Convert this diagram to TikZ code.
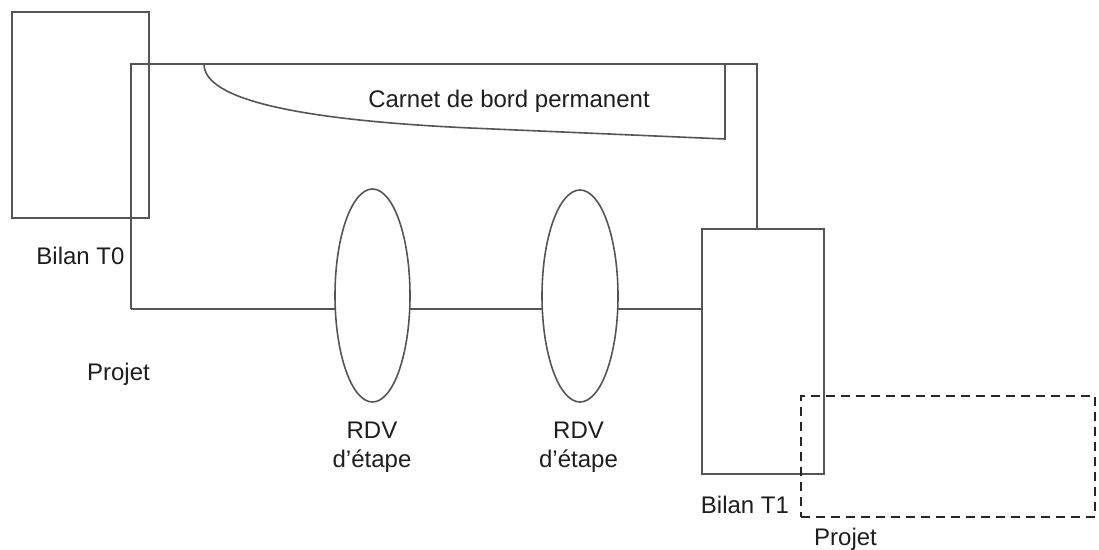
\documentclass[tikz,border=0pt]{standalone}
\usepackage{fontspec}
\setmainfont{Liberation Sans}
\usetikzlibrary{shapes.geometric}
\definecolor{linegray}{HTML}{555555}
\definecolor{txt}{HTML}{1E1E1E}
\tikzset{
  solidline/.style={draw=linegray, line width=1.6pt},
  boxnode/.style={solidline, rectangle, inner sep=0pt, outer sep=0pt},
  rdvnode/.style={solidline, ellipse, inner sep=0pt, outer sep=0pt},
  dashbox/.style={draw=black!85, line width=2pt, dash pattern=on 9pt off 6pt, rectangle, inner sep=0pt, outer sep=0pt},
  lbl/.style={text=txt, inner sep=0pt, font=\fontsize{24}{29}\selectfont},
}
\begin{document}
\begin{tikzpicture}[x=1pt, y=-1pt]
\fill[white] (0,0) rectangle (1099,549);
\useasboundingbox (0,0) rectangle (1099,549);

% Bilan T0
\node[boxnode, minimum width=137pt, minimum height=206pt] (t0) at (80.5,115) {};
% big project frame
\coordinate (tl) at (131,64);
\coordinate (tr) at (757,64);
\coordinate (bl) at (131,309);
% ellipses
\node[rdvnode, minimum width=75pt, minimum height=213pt] (e1) at (372.5,295.5) {};
\node[rdvnode, minimum width=76pt, minimum height=212pt] (e2) at (580,296) {};
% Bilan T1
\node[boxnode, minimum width=122pt, minimum height=245pt] (t1) at (763,351.5) {};
% dashed projet
\node[dashbox, minimum width=294pt, minimum height=121pt] (p1) at (948,456.5) {};

\draw[solidline, line join=miter] (bl) -- (tl) -- (tr) -- (t1.north -| tr);
\draw[solidline] (bl) -- (e1.west |- bl);
\draw[solidline] (e1.east |- bl) -- (e2.west |- bl);
\draw[solidline] (e2.east |- bl) -- (t1.west |- bl);

% carnet de bord
\coordinate (c0) at (204,64);
\coordinate (c1) at (470,128);
\coordinate (c2) at (725,139);
\coordinate (c3) at (725,64);
\draw[solidline] (c0) .. controls (204,100) and (300,120) .. (c1) -- (c2) -- (c3);

% labels
\node[lbl, anchor=base] (carnet) at (509,107) {Carnet de bord permanent};
\node[lbl, anchor=base] (lt0) at (80.5,264) {Bilan T0};
\node[lbl, anchor=base] (lpr0) at (118.5,380) {Projet};
\node[lbl, anchor=north, align=center] (r1) at (372,422) {RDV\\d’étape};
\node[lbl, anchor=north, align=center] (r2) at (578.5,422) {RDV\\d’étape};
\node[lbl, anchor=base] (lt1) at (745,513) {Bilan T1};
\node[lbl, anchor=base] (lpr1) at (845.5,545) {Projet};
\end{tikzpicture}
\end{document}
